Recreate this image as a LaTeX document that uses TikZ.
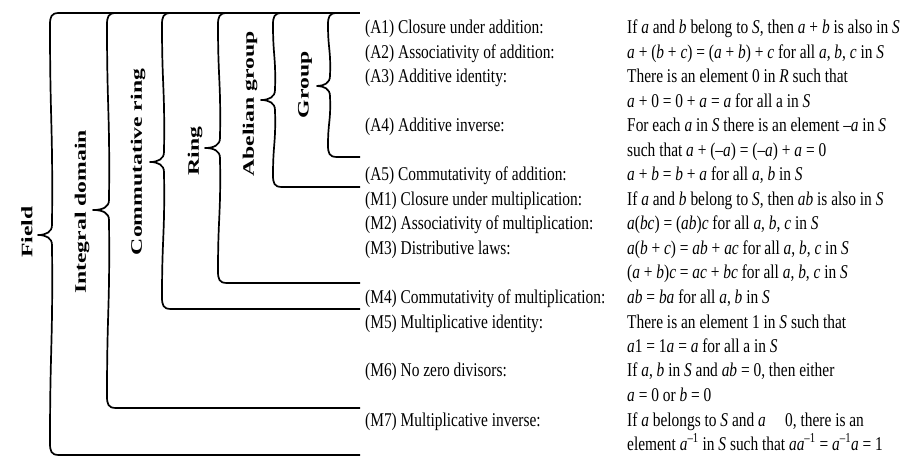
\documentclass[tikz,border=0pt]{standalone}
\usepackage{fontspec}
\setmainfont{Liberation Serif}
\newfontfamily\rtext[FakeStretch=0.79]{Liberation Serif}
\newfontfamily\lbltext[FakeStretch=1.48]{Liberation Serif}
\newcommand\iv[1]{\textit{#1}}
\newcommand\mybrc[4]{%
  \draw[bl] ({#1+9},-13) .. controls ({#1+1},-13) and (#1,-17) .. (#1,-25)
    .. controls (#1,{-(13+#3)/2}) and ({#1+3},{-(13+#3)/2}) .. ({#1+2},{-(#3-10)})
    .. controls ({#1+2},{-(#3-3)}) and ({#1-4},{-#3}) .. (#2,{-#3})
    .. controls ({#1-4},{-#3}) and ({#1+2},{-(#3+3)}) .. ({#1+2},{-(#3+10)})
    .. controls ({#1+3},{-(#3+#4)/2}) and (#1,{-(#3+#4)/2}) .. (#1,{-(#4-12)})
    .. controls (#1,{-(#4-4)}) and ({#1+1},-#4) .. ({#1+9},-#4) -- (360,-#4);}
\begin{document}
\begin{tikzpicture}[x=1pt,y=1pt,
  bl/.style={line width=1.7pt, line join=round, line cap=butt},
  lt/.style={anchor=base west, inner sep=0pt, font=\rtext\fontsize{19.5}{24}\selectfont},
  lab/.style={rotate=90, inner sep=0pt, font=\lbltext\bfseries\fontsize{16}{18}\selectfont}]
\useasboundingbox (0,0) rectangle (903,-457);
% top line
\draw[bl] (59,-13) -- (360,-13);
% braces: vertical x, tip x, tip y, bottom y
\mybrc{50}{38}{235}{455}
\mybrc{107}{93}{210}{408}
\mybrc{162}{150}{162}{309}
\mybrc{218}{205}{148}{283}
\mybrc{273}{261}{100}{187}
\mybrc{328}{317}{86}{157}
% labels
\node[lab] (field) at (27,-232) {Field};
\node[lab] (intd) at (82,-212) {Integral domain};
\node[lab] (cring) at (138,-162) {Commutative ring};
\node[lab] (ring) at (195,-151) {Ring};
\node[lab] (agrp) at (250,-104) {Abelian group};
\node[lab] (grp) at (305,-85) {Group};
% left column
\node[lt] (l0) at (365,-34) {(A1) Closure under addition:};
\node[lt] (l1) at (365,-58.5) {(A2) Associativity of addition:};
\node[lt] (l2) at (365,-83) {(A3) Additive identity:};
\node[lt] (l4) at (365,-132) {(A4) Additive inverse:};
\node[lt] (l6) at (365,-181) {(A5) Commutativity of addition:};
\node[lt] (l7) at (365,-205.5) {(M1) Closure under multiplication:};
\node[lt] (l8) at (365,-230) {(M2) Associativity of multiplication:};
\node[lt] (l9) at (365,-254.5) {(M3) Distributive laws:};
\node[lt] (l11) at (365,-303.5) {(M4) Commutativity of multiplication:};
\node[lt] (l12) at (365,-328) {(M5) Multiplicative identity:};
\node[lt] (l14) at (365,-377) {(M6) No zero divisors:};
\node[lt] (l16) at (365,-426) {(M7) Multiplicative inverse:};
% right column
\node[lt] (r0) at (627,-34) {If \iv{a} and \iv{b} belong to \iv{S}, then \iv{a} + \iv{b} is also in \iv{S}};
\node[lt] (r1) at (627,-58.5) {\iv{a} + (\iv{b} + \iv{c}) = (\iv{a} + \iv{b}) + \iv{c} for all \iv{a}, \iv{b}, \iv{c} in \iv{S}};
\node[lt] (r2) at (627,-83) {There is an element 0 in \iv{R} such that};
\node[lt] (r3) at (627,-107.5) {\iv{a} + 0 = 0 + \iv{a} = \iv{a} for all a in \iv{S}};
\node[lt] (r4) at (627,-132) {For each \iv{a} in \iv{S} there is an element –\iv{a} in \iv{S}};
\node[lt] (r5) at (627,-156.5) {such that \iv{a} + (–\iv{a}) = (–\iv{a}) + \iv{a} = 0};
\node[lt] (r6) at (627,-181) {\iv{a} + \iv{b} = \iv{b} + \iv{a} for all \iv{a}, \iv{b} in \iv{S}};
\node[lt] (r7) at (627,-205.5) {If \iv{a} and \iv{b} belong to \iv{S}, then \iv{ab} is also in \iv{S}};
\node[lt] (r8) at (627,-230) {\iv{a}(\iv{bc}) = (\iv{ab})\iv{c} for all \iv{a}, \iv{b}, \iv{c} in \iv{S}};
\node[lt] (r9) at (627,-254.5) {\iv{a}(\iv{b} + \iv{c}) = \iv{ab} + \iv{ac} for all \iv{a}, \iv{b}, \iv{c} in \iv{S}};
\node[lt] (r10) at (627,-279) {(\iv{a} + \iv{b})\iv{c} = \iv{ac} + \iv{bc} for all \iv{a}, \iv{b}, \iv{c} in \iv{S}};
\node[lt] (r11) at (627,-303.5) {\iv{ab} = \iv{ba} for all \iv{a}, \iv{b} in \iv{S}};
\node[lt] (r12) at (627,-328) {There is an element 1 in \iv{S} such that};
\node[lt] (r13) at (627,-352.5) {\iv{a}1 = 1\iv{a} = \iv{a} for all a in \iv{S}};
\node[lt] (r14) at (627,-377) {If \iv{a}, \iv{b} in \iv{S} and \iv{ab} = 0, then either};
\node[lt] (r15) at (627,-401.5) {\iv{a} = 0 or \iv{b} = 0};
\node[lt] (r16) at (627,-426) {If \iv{a} belongs to \iv{S} and \iv{a} \hspace{0.6em} 0, there is an};
\node[lt] (r17) at (627,-450.5) {element \iv{a}\textsuperscript{–1} in \iv{S} such that \iv{aa}\textsuperscript{–1} = \iv{a}\textsuperscript{–1}\iv{a} = 1};
\end{tikzpicture}
\end{document}
